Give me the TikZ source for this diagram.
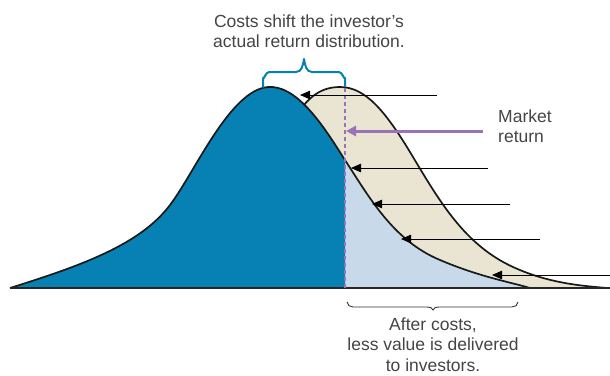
\documentclass[tikz,border=0pt]{standalone}
\usepackage{fontspec}
\setmainfont{Liberation Sans}
\usetikzlibrary{arrows.meta}
\definecolor{dblue}{HTML}{0780B3}
\definecolor{lblue}{HTML}{C8DAEA}
\definecolor{beige}{HTML}{EAE4D2}
\definecolor{mpurple}{HTML}{9A72B6}
\definecolor{txt}{HTML}{444444}
\begin{document}
\begin{tikzpicture}[x=1pt,y=-1pt,
  lbl/.style={font=\fontsize{17.5}{20.5}\selectfont, text=txt, inner sep=0pt},
  curveline/.style={line width=1.7pt, black!90, line join=round},
  pointer/.style={line width=0.8pt, black, -{Triangle[length=10pt,width=8.5pt]}},
  bigpointer/.style={line width=3pt, mpurple, -{Triangle[length=10pt,width=10pt]}},
]
\useasboundingbox (0,0) rectangle (610,375);
\def\Rcurve{(87,288) .. controls (180,270) and (260,170) .. (290,125)
  .. controls (305,100) and (318,87) .. (340,87)
  .. controls (365,87) and (385,110) .. (413,157)
  .. controls (440,202) and (465,245) .. (513,267)
  .. controls (550,284) and (585,286) .. (607,288)}
\def\Lcurve{(10,288) .. controls (80,266) and (140,245) .. (170,205)
  .. controls (195,172) and (230,90) .. (268,87)
  .. controls (295,85) and (320,120) .. (343,157)
  .. controls (368,195) and (392,240) .. (440,260)
  .. controls (480,277) and (510,282) .. (530,288)}
% fills and outlines
\fill[beige] \Rcurve -- cycle;
\draw[curveline] \Rcurve;
\fill[lblue] \Lcurve -- cycle;
\begin{scope}
  \clip (0,0) rectangle (345,300);
  \fill[dblue] \Lcurve -- cycle;
\end{scope}
\draw[curveline] \Lcurve;
\draw[line width=1.5pt, black!85] (10,288) -- (610,288);
% market return line
\coordinate (mtop) at (345,88);
\coordinate (mbot) at (345,288);
\draw[mpurple, line width=1.6pt, dash pattern=on 4pt off 3pt] (mbot) -- (mtop);
% pointer arrows
\coordinate (a1s) at (437,95);  \coordinate (a1e) at (300,95);
\coordinate (a3s) at (488,168); \coordinate (a3e) at (351,168);
\coordinate (a4s) at (510,204); \coordinate (a4e) at (372,204);
\coordinate (a5s) at (540,239); \coordinate (a5e) at (401,239);
\coordinate (a6s) at (610,275); \coordinate (a6e) at (492,275);
\coordinate (a2s) at (483,131); \coordinate (a2e) at (346,131);
\draw[pointer] (a1s) -- (a1e);
\draw[pointer] (a3s) -- (a3e);
\draw[pointer] (a4s) -- (a4e);
\draw[pointer] (a5s) -- (a5e);
\draw[pointer] (a6s) -- (a6e);
\draw[bigpointer] (a2s) -- (a2e);
% top brace
\draw[dblue, line width=2pt, line cap=round, line join=round]
  (263,87) -- (263,78) to[out=-90,in=180] (269,72) -- (296,72)
  to[out=0,in=-100] (304,59) to[out=-80,in=180] (312,72) -- (339,72)
  to[out=0,in=-90] (345,78) -- (345,86);
% bottom brace
\draw[black!80, line width=0.9pt]
  (347,302) to[out=-90,in=180] (353,307) -- (427,307)
  to[out=0,in=100] (433,310) to[out=80,in=180] (439,307) -- (512,307)
  to[out=0,in=-90] (518,302);
% texts
\node[lbl, align=center, anchor=north] (costs) at (309,14.5)
  {Costs shift the investor’s\\actual return distribution.};
\node[lbl, align=left, anchor=north west] (market) at (498,109.5)
  {Market\\return};
\node[lbl, align=center, anchor=north] (after) at (433,317.5)
  {After costs,\\less value is delivered\\to investors.};
\end{tikzpicture}
\end{document}
